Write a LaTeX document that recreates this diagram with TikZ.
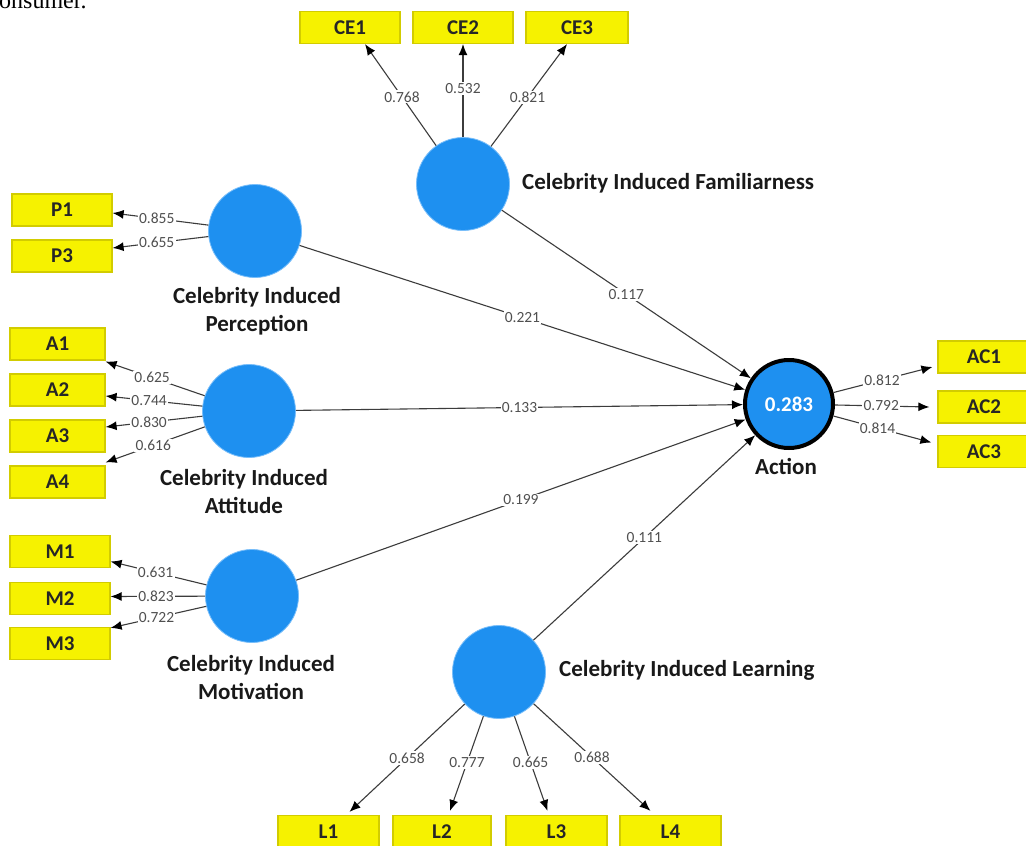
\documentclass[tikz,border=0pt]{standalone}
\usepackage{fontspec}
\setmainfont{Carlito}
\newfontfamily\capfont{Liberation Serif}
\usetikzlibrary{arrows.meta}
\definecolor{lvblue}{RGB}{30,144,240}
\definecolor{lvedge}{RGB}{120,190,250}
\definecolor{indyellow}{RGB}{246,242,0}
\definecolor{indedge}{RGB}{210,204,0}
\definecolor{linegray}{RGB}{60,60,60}
\definecolor{numgray}{RGB}{80,80,80}
\begin{document}
\begin{tikzpicture}[x=1pt,y=-1pt,
 lv/.style={circle, fill=lvblue, draw=lvedge, line width=0.8pt, minimum size=93pt, inner sep=0pt},
 endo/.style={circle, fill=lvblue, draw=black, line width=4pt, minimum size=88pt, inner sep=0pt, text=white, font=\bfseries\fontsize{21}{24}\selectfont},
 ind/.style={rectangle, fill=indyellow, draw=indedge, line width=1.2pt, minimum height=32pt, inner sep=0pt, font=\bfseries\fontsize{21}{24}\selectfont, text=black!85},
 lvname/.style={font=\bfseries\fontsize{23}{28}\selectfont, align=center, inner sep=0pt, text=black!90},
 conn/.style={draw=linegray, line width=1.1pt, -{Latex[length=11pt,width=9pt,color=black]}},
 num/.style={fill=white, inner sep=1.2pt, text=numgray, font=\fontsize{15.5}{15.5}\selectfont},
]
\useasboundingbox (0,0) rectangle (1026,846);
\clip (0,0) rectangle (1026,846);
\fill[white] (0,0) rectangle (1026,846);

% cropped caption fragment
\node[anchor=base west, inner sep=0pt, font=\capfont\fontsize{24}{24}\selectfont] (cap) at (-1,8) {onsumer.};

% latent variables
\node[lv] (Fam) at (463,184) {};
\node[lv] (Per) at (255,231) {};
\node[lv] (Att) at (249,411) {};
\node[lv] (Mot) at (252,596) {};
\node[lv] (Lrn) at (499,672) {};
\node[endo] (Act) at (789,404) {0.283};

% latent names
\node[lvname, anchor=west] (tFam) at (522,183) {Celebrity Induced Familiarness};
\node[lvname] (tPer) at (257,311) {Celebrity Induced\\Perception};
\node[lvname] (tAtt) at (244,492) {Celebrity Induced\\Attitude};
\node[lvname] (tMot) at (251,678) {Celebrity Induced\\Motivation};
\node[lvname, anchor=west] (tLrn) at (559,670) {Celebrity Induced Learning};
\node[lvname] (tAct) at (786,466) {Action};

% indicators
\node[ind, minimum width=100pt] (CE1) at (350,27.5) {CE1};
\node[ind, minimum width=100pt] (CE2) at (463,27.5) {CE2};
\node[ind, minimum width=102pt] (CE3) at (577,27.5) {CE3};
\node[ind, minimum width=100pt] (P1) at (62,210) {P1};
\node[ind, minimum width=100pt] (P3) at (62,256) {P3};
\node[ind, minimum width=95pt] (A1) at (57.5,344) {A1};
\node[ind, minimum width=95pt] (A2) at (57.5,390) {A2};
\node[ind, minimum width=95pt] (A3) at (57.5,436) {A3};
\node[ind, minimum width=95pt] (A4) at (57.5,482) {A4};
\node[ind, minimum width=100pt] (M1) at (60,551.5) {M1};
\node[ind, minimum width=100pt] (M2) at (60,598.5) {M2};
\node[ind, minimum width=100pt] (M3) at (60,643.5) {M3};
\node[ind, minimum width=92pt] (AC1) at (984,357) {AC1};
\node[ind, minimum width=92pt] (AC2) at (984,407) {AC2};
\node[ind, minimum width=92pt] (AC3) at (984,451.5) {AC3};
\node[ind, minimum width=101pt] (L1) at (328.5,831.5) {L1};
\node[ind, minimum width=98pt] (L2) at (442,831.5) {L2};
\node[ind, minimum width=101pt] (L3) at (556.5,831.5) {L3};
\node[ind, minimum width=101pt] (L4) at (670.5,831.5) {L4};

% outer loadings
\draw[conn] (Fam) -- node[num, pos=0.48] (lCE1) {0.768} ([xshift=15pt]CE1.south);
\draw[conn] (Fam) -- node[num, pos=0.52] (lCE2) {0.532} (CE2.south);
\draw[conn] (Fam) -- node[num, pos=0.48] (lCE3) {0.821} ([xshift=-10pt]CE3.south);

\draw[conn] (Per) -- node[num, pos=0.54] (lP1) {0.855} ([yshift=-3pt]P1.east);
\draw[conn] (Per) -- node[num, pos=0.54] (lP3) {0.655} ([yshift=8pt]P3.east);

\draw[conn] (Att) -- node[num, pos=0.53] (lA1) {0.625} ([yshift=-1pt]A1.south east);
\draw[conn] (Att) -- node[num, pos=0.55] (lA2) {0.744} ([yshift=-6pt]A2.east);
\draw[conn] (Att) -- node[num, pos=0.55] (lA3) {0.830} ([yshift=9pt]A3.east);
\draw[conn] (Att) -- node[num, pos=0.52] (lA4) {0.616} ([yshift=3pt]A4.north east);

\draw[conn] (Mot) -- node[num, pos=0.53] (lM1) {0.631} ([yshift=-10pt]M1.east);
\draw[conn] (Mot) -- node[num, pos=0.52] (lM2) {0.823} ([yshift=2pt]M2.east);
\draw[conn] (Mot) -- node[num, pos=0.52] (lM3) {0.722} ([yshift=-1pt]M3.north east);

\draw[conn] (Lrn) -- node[num, pos=0.5] (lL1) {0.658} ([xshift=21pt,yshift=3pt]L1.north);
\draw[conn] (Lrn) -- node[num, pos=0.49] (lL2) {0.777} ([xshift=8pt,yshift=4pt]L2.north);
\draw[conn] (Lrn) -- node[num, pos=0.49] (lL3) {0.665} ([xshift=-9pt,yshift=4pt]L3.north);
\draw[conn] (Lrn) -- node[num, pos=0.5] (lL4) {0.688} ([xshift=-20pt,yshift=4pt]L4.north);

\draw[conn] (Act) -- node[num, pos=0.49] (lAC1) {0.812} ([xshift=-5pt,yshift=-10pt]AC1.west);
\draw[conn] (Act) -- node[num, pos=0.49] (lAC2) {0.792} ([xshift=-8pt]AC2.west);
\draw[conn] (Act) -- node[num, pos=0.45] (lAC3) {0.814} ([xshift=-6pt,yshift=9pt]AC3.west);

% path coefficients
\draw[conn] (Fam) -- node[num, pos=0.5] (bFam) {0.117} (Act);
\draw[conn] (Per) -- node[num, pos=0.5] (bPer) {0.221} (Act);
\draw[conn] (Att) -- node[num, pos=0.5] (bAtt) {0.133} (Act);
\draw[conn] (Mot) -- node[num, pos=0.5] (bMot) {0.199} (Act);
\draw[conn] (Lrn) -- node[num, pos=0.5] (bLrn) {0.111} (Act);
\end{tikzpicture}
\end{document}
